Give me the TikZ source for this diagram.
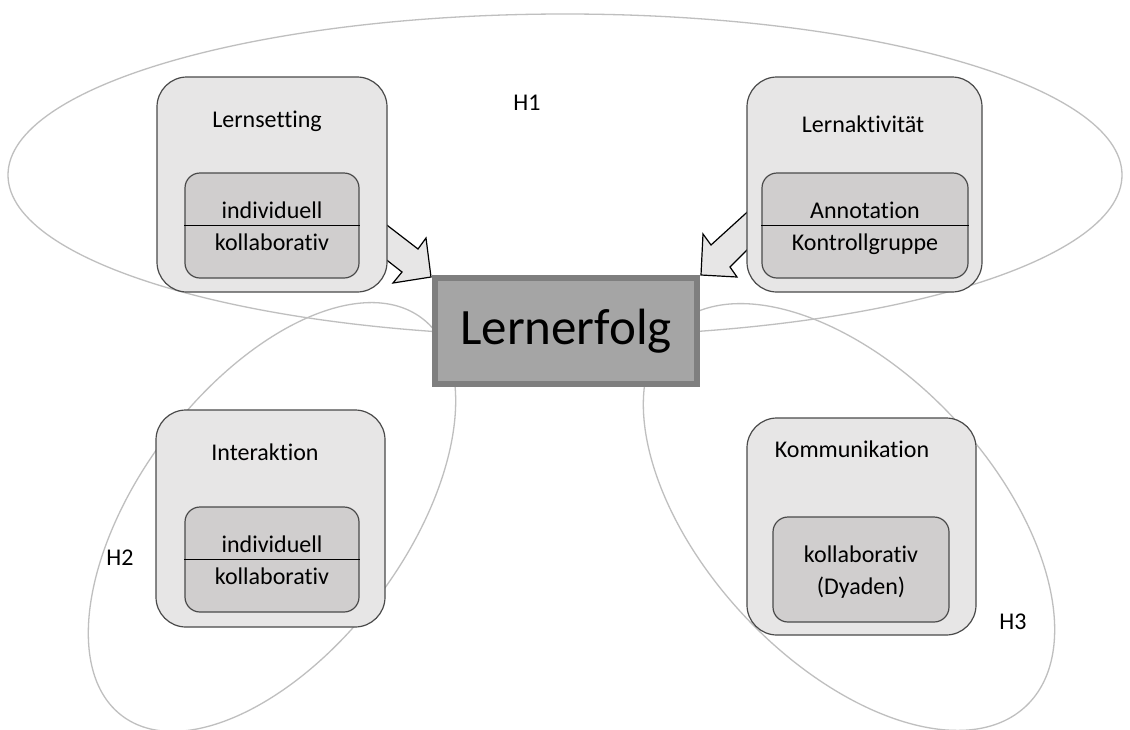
\documentclass[tikz,border=0pt]{standalone}
\usepackage{fontspec}
\setmainfont{Carlito}[Ligatures={NoCommon}]
\definecolor{outerfill}{HTML}{E7E6E6}
\definecolor{innerfill}{HTML}{D0CECE}
\definecolor{boxline}{HTML}{4A4A4A}
\definecolor{ellgray}{HTML}{BFBFBF}
\definecolor{mainfill}{HTML}{A5A5A5}
\definecolor{mainline}{HTML}{7F7F7F}
\begin{document}
\begin{tikzpicture}[x=1pt,y=-1pt,
  outerbox/.style={draw=boxline, fill=outerfill, rounded corners=30pt, line width=1.2pt, inner sep=0pt},
  innerbox/.style={draw=boxline, fill=innerfill, rounded corners=15pt, line width=1.2pt, inner sep=0pt},
  hyp/.style={draw=ellgray, line width=1.3pt},
  blockarrow/.style={draw=black, fill=outerfill, line width=1.2pt, line join=miter},
  lbl/.style={anchor=base, inner sep=0pt, font=\fontsize{24}{28}\selectfont},
  mainbox/.style={draw=mainline, fill=mainfill, line width=6pt, inner sep=0pt,
    minimum width=262pt, minimum height=106pt, font=\fontsize{51}{60}\selectfont}
]
\useasboundingbox (0,0) rectangle (1130,729);
\fill[white] (0,0) rectangle (1130,729);

% hypothesis ellipses
\draw[hyp] (565,175) ellipse [x radius=557, y radius=161];
\draw[hyp, rotate around={53:(272,517)}] (272,517) ellipse [x radius=249, y radius=133];
\draw[hyp, rotate around={-47:(849,517)}] (849,517) ellipse [x radius=259, y radius=144];

% block arrows
\draw[blockarrow] (379,219) -- (418,249) -- (426,238) -- (431,277) -- (393,283) -- (402,272) -- (379,254) -- cycle;
\draw[blockarrow] (755,205) -- (711,245) -- (703,234) -- (701,275) -- (737,277) -- (730,267) -- (754,243) -- cycle;

% outer boxes
\node[outerbox, minimum width=230pt, minimum height=215pt] (setting) at (272,184.5) {};
\node[outerbox, minimum width=235pt, minimum height=215pt] (aktiv) at (864.5,184.5) {};
\node[outerbox, minimum width=229pt, minimum height=217pt] (inter) at (270.5,518.5) {};
\node[outerbox, minimum width=229pt, minimum height=217pt] (komm) at (861.5,526.5) {};

% inner boxes
\node[innerbox, minimum width=174pt, minimum height=105pt] (settingIn) at (272,225.5) {};
\node[innerbox, minimum width=206pt, minimum height=105pt] (aktivIn) at (865,225.5) {};
\node[innerbox, minimum width=174pt, minimum height=105pt] (interIn) at (272,559.5) {};
\node[innerbox, minimum width=176pt, minimum height=105pt] (kommIn) at (861,569.5) {};

% dividers
\draw[line width=1.2pt] (settingIn.west) -- (settingIn.east);
\draw[line width=1.2pt] (aktivIn.west) -- (aktivIn.east);
\draw[line width=1.2pt] (interIn.west) -- (interIn.east);

% titles
\node[lbl] (tSetting) at (267,127) {Lernsetting};
\node[lbl] (tAktiv) at (863,132) {Lernaktivität};
\node[lbl] (tInter) at (265,460) {Interaktion};
\node[lbl] (tKomm) at (852,457) {Kommunikation};

% inner texts
\node[lbl] (s1) at (272,218) {individuell};
\node[lbl] (s2) at (272,250) {kollaborativ};
\node[lbl] (a1) at (865,218) {Annotation};
\node[lbl] (a2) at (865,250) {Kontrollgruppe};
\node[lbl] (i1) at (272,552) {individuell};
\node[lbl] (i2) at (272,584) {kollaborativ};
\node[lbl] (k1) at (861,562) {kollaborativ};
\node[lbl] (k2) at (861,594) {(Dyaden)};

% hypothesis labels
\node[lbl] (h1) at (527,110) {H1};
\node[lbl] (h2) at (120,565) {H2};
\node[lbl] (h3) at (1013,629) {H3};

% central box
\node[mainbox] (erfolg) at (566,331) {Lernerfolg};
\end{tikzpicture}
\end{document}
